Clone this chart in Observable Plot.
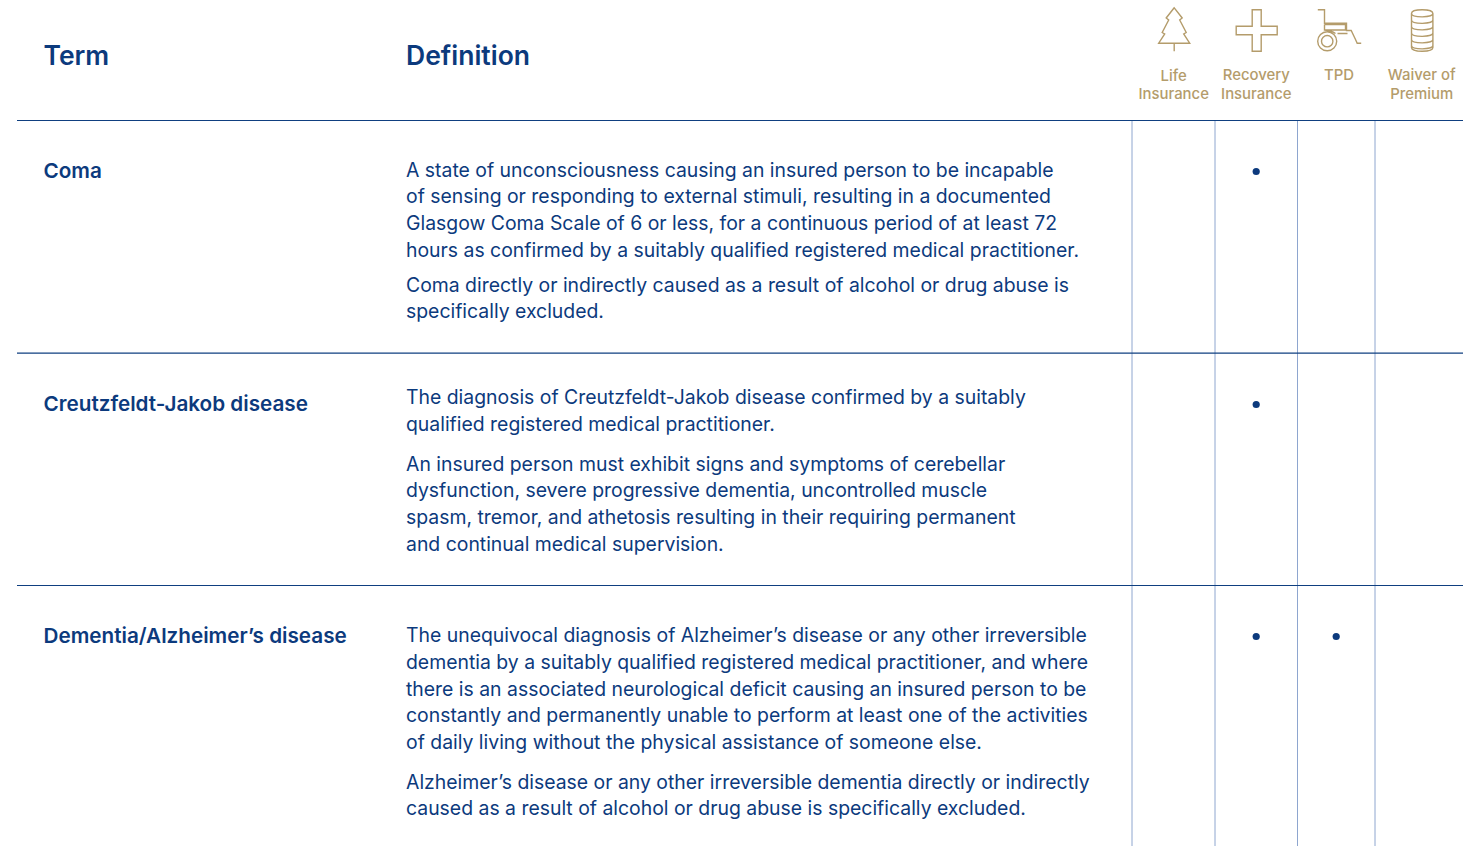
<!DOCTYPE html>
<html><head><meta charset="utf-8">
<script src="https://cdn.jsdelivr.net/npm/d3@7"></script>
<script src="https://cdn.jsdelivr.net/npm/@observablehq/plot@0.6"></script>
<style>html,body{margin:0;padding:0;background:#fff;overflow:hidden}svg{display:block}</style>
</head><body><div id="c"></div>
<script>
const headers = ["Term", "Definition"];
const terms = ["Coma", "Creutzfeldt-Jakob disease", "Dementia/Alzheimer’s disease"];
const definitions = [
  [["A state of unconsciousness causing an insured person to be incapable",
    "of sensing or responding to external stimuli, resulting in a documented",
    "Glasgow Coma Scale of 6 or less, for a continuous period of at least 72",
    "hours as confirmed by a suitably qualified registered medical practitioner."],
   ["Coma directly or indirectly caused as a result of alcohol or drug abuse is",
    "specifically excluded."]],
  [["The diagnosis of Creutzfeldt-Jakob disease confirmed by a suitably",
    "qualified registered medical practitioner."],
   ["An insured person must exhibit signs and symptoms of cerebellar",
    "dysfunction, severe progressive dementia, uncontrolled muscle",
    "spasm, tremor, and athetosis resulting in their requiring permanent",
    "and continual medical supervision."]],
  [["The unequivocal diagnosis of Alzheimer’s disease or any other irreversible",
    "dementia by a suitably qualified registered medical practitioner, and where",
    "there is an associated neurological deficit causing an insured person to be",
    "constantly and permanently unable to perform at least one of the activities",
    "of daily living without the physical assistance of someone else."],
   ["Alzheimer’s disease or any other irreversible dementia directly or indirectly",
    "caused as a result of alcohol or drug abuse is specifically excluded."]]
];
const coverNames = [["Life","Insurance"],["Recovery","Insurance"],["TPD"],["Waiver of","Premium"]];
const coverage = [[0,1,0,0],[0,1,0,0],[0,1,1,0]];

// layout (page pixels)
const W = 1475, H = 846;
const navy = "#0c3a7d", gold = "#b49c6b", pale = "#8ea6cf", rule = "#0f3f80";
const font = "Inter, sans-serif";
const rowRules = [120, 352.7, 585];
const colRules = [1131.5, 1214.5, 1297, 1374.5];
const colCenters = [1173.2, 1255.8, 1338.5, 1421.2];
const dotCols = [1173.5, 1255.7, 1335.7, 1421.5];
const rowTermY = [171, 404, 636];
const rowDefY = [170, 397.4, 635.7];
const lineH = 26.6, paraGaps = [8.4, 13.4, 13.4];

const defLines = [];
definitions.forEach((paras, r) => {
  let y = rowDefY[r];
  paras.forEach(p => {
    p.forEach(t => { defLines.push({t, y}); y += lineH; });
    y += paraGaps[r];
  });
});
const capLines = [];
coverNames.forEach((ls, c) => ls.forEach((t, i) => capLines.push({t, x: colCenters[c], y: (c===0?75.3:74.7) + i * (c===0?18.2:18.8)})));
const dots = [];
coverage.forEach((row, r) => row.forEach((v, c) => { if (v) dots.push({x: dotCols[c], y: rowTermY[r]}); }));

function pathSymbol(fn){ return {draw(ctx){ fn(ctx); }}; }
function poly(ctx, pts, close){ pts.forEach((p,i)=> i?ctx.lineTo(p[0],p[1]):ctx.moveTo(p[0],p[1])); if(close) ctx.closePath(); }
const tree = pathSymbol(c=>{
  poly(c,[[0,-21.7],[-8,-11.5],[-5.5,-9.5],[-12,3],[-9.5,4.5],[-15.5,13.7],[15.5,13.7],[9.5,4.5],[12,3],[5.5,-9.5],[8,-11.5]],true);
  poly(c,[[0,13.7],[0,21.7]]);
});
const cross = pathSymbol(c=>{
  poly(c,[[-4.5,-20.7],[4.5,-20.7],[4.5,-4.3],[20.5,-4.3],[20.5,4.3],[4.5,4.3],[4.5,20.7],[-4.5,20.7],[-4.5,4.3],[-20.5,4.3],[-20.5,-4.3],[-4.5,-4.3]],true);
});
const chair = pathSymbol(c=>{
  poly(c,[[-20.7,-19.7],[-14,-19.7],[-14,-6.3],[8,-6.3],[8,1],[12.7,1],[17,10],[18.7,13.7],[22.7,13.7]]);
  poly(c,[[-14,-5],[7,-5],[7,0.5],[-14,0.5],[-14,-5]]);
  c.moveTo(-14,0.5); c.quadraticCurveTo(-7,1,-3,4);
  poly(c,[[-1,4],[9,4]]);
  c.moveTo(-1.8,11.7); c.arc(-11.3,11.7,9.5,0,2*Math.PI);
  c.moveTo(-5.6,11.7); c.arc(-11.3,11.7,5.7,0,2*Math.PI);
});
const coins = pathSymbol(c=>{
  const w = 10.7;
  c.moveTo(-w,-17); c.bezierCurveTo(-w,-22,w,-22,w,-17);
  c.lineTo(w,17); c.bezierCurveTo(w,22,-w,22,-w,17); c.closePath();
  [-17,-10.5,-4,2.5,9,15].forEach(y=>{ c.moveTo(-w,y); c.bezierCurveTo(-w,y+4.5,w,y+4.5,w,y); });
});
const icons = [{x:1173.7,y:29,s:tree},{x:1256.2,y:30,s:cross},{x:1338,y:29,s:chair},{x:1421.7,y:30,s:coins}];

const txt = {x:"x", y:"y", text:"t", textAnchor:"start", lineAnchor:"middle", fontFamily:font, fill:navy};
const chart = Plot.plot({
  width:W, height:H, margin:0,
  x:{domain:[0,W], range:[0,W], axis:null},
  y:{domain:[0,H], range:[0,H], axis:null},
  marks:[
    Plot.ruleX(colRules,{y1:121,y2:H,stroke:pale,strokeWidth:1}),
    Plot.ruleY(rowRules,{x1:17,x2:1463,stroke:rule,strokeWidth:1.2}),
    Plot.text(headers.map((t,i)=>({t,x:[43,405.5][i],y:56})),{...txt,fontSize:26.5,fontWeight:600}),
    Plot.text(terms.map((t,i)=>({t,x:43,y:rowTermY[i]})),{...txt,fontSize:20.7,fontWeight:600}),
    Plot.text(defLines,{...txt,x:()=>405.5,fontSize:19.4}),
    Plot.text(capLines,{...txt,textAnchor:"middle",fill:gold,fontSize:14.9,fontWeight:500}),
    Plot.dot(dots,{x:"x",y:"y",r:3.6,fill:navy}),
    ...icons.map(d=>Plot.dot([d],{x:"x",y:"y",symbol:()=>d.s,r:5,stroke:gold,strokeWidth:1.4,fill:"none"}))
  ]
});
document.getElementById("c").append(chart);
</script></body></html>
